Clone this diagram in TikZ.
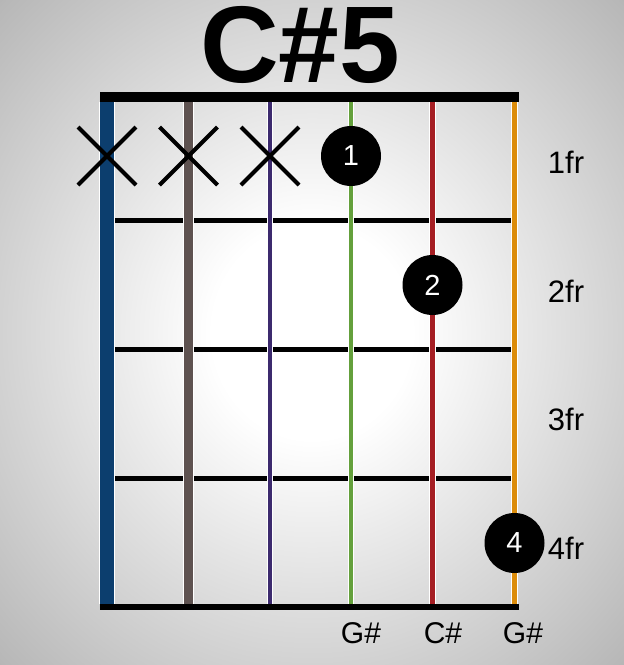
\documentclass[tikz,border=0pt]{standalone}
\usepackage{fontspec}
\setmainfont{Liberation Sans}
\usepackage{xcolor}

\definecolor{strA}{RGB}{12,62,110}
\definecolor{strB}{RGB}{94,82,80}
\definecolor{strC}{RGB}{60,42,110}
\definecolor{strD}{RGB}{100,160,60}
\definecolor{strE}{RGB}{165,30,35}
\definecolor{strF}{RGB}{220,140,10}

\pgfdeclareradialshading{vignette}{\pgfpoint{0bp}{0bp}}{color(0bp)=(white); color(8bp)=(white); color(35bp)=(black!28); color(50bp)=(black!58)}

\begin{document}
\begin{tikzpicture}[x=1pt, y=-1pt,
  dot/.style={circle, fill=black, minimum size=60pt, inner sep=0pt, text=white, font=\fontsize{29}{29}\selectfont},
  frlabel/.style={anchor=base, font=\fontsize{31}{31}\selectfont},
  notelabel/.style={anchor=base, font=\fontsize{30}{30}\selectfont},
  mute/.style={line width=4pt},
  fret/.style={line width=4.5pt}]
\useasboundingbox (0,0) rectangle (624,665);
\shade[shading=vignette] (0,0) rectangle (624,665);

\node[anchor=base, font=\fontsize{109}{109}\selectfont\bfseries] (title) at (300,82) {C\#5};

% nut, frets and bottom bar
\fill (100,92) rectangle (519,102);
\fill (100,604) rectangle (519,610);
\foreach \y in {220.5,349.5,478.5}
  \draw[fret] (107,\y) -- (514.5,\y);

% strings
\foreach \x/\w/\c in {107/14/strA, 188.5/9/strB, 270/4/strC, 351/4/strD, 432.5/5/strE, 514.5/5/strF} {
  \draw[white, line width={(\w+1.5)*1pt}] (\x,102) -- (\x,604);
  \draw[\c, line width={\w*1pt}] (\x,102) -- (\x,604);
}

\foreach \x in {107,188.5,270}
  \draw[mute] (\x-29,127) -- (\x+29,185) (\x-29,185) -- (\x+29,127);

\node[dot] (d1) at (351,156) {1};
\node[dot] (d2) at (432.5,285) {2};
\node[dot] (d4) at (514.5,543) {4};

\node[frlabel] (fr1) at (566,173) {1fr};
\node[frlabel] (fr2) at (566,302) {2fr};
\node[frlabel] (fr3) at (566,430) {3fr};
\node[frlabel] (fr4) at (566,559) {4fr};

\node[notelabel] (n4) at (361,643) {G\#};
\node[notelabel] (n5) at (443,643) {C\#};
\node[notelabel] (n6) at (523,643) {G\#};
\end{tikzpicture}
\end{document}
